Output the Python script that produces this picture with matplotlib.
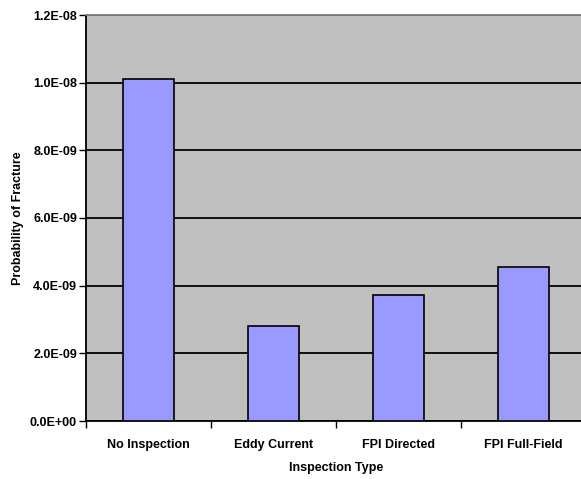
import matplotlib
matplotlib.use("Agg")
import matplotlib.pyplot as plt
from matplotlib.ticker import FuncFormatter, FixedLocator
import numpy as np

categories = ["No Inspection", "Eddy Current", "FPI Directed", "FPI Full-Field"]
values = [1.01e-8, 2.81e-9, 3.72e-9, 4.55e-9]
yticks = [0, 2e-9, 4e-9, 6e-9, 8e-9, 1.0e-8, 1.2e-8]

plt.rcParams['font.family'] = ['Liberation Sans', 'DejaVu Sans']
plt.rcParams['font.weight'] = 'bold'

W, H = 581, 479
fig = plt.figure(figsize=(W/100, H/100), dpi=100)
left, right, top, bottom = 86, 586, 15, 421
ax = fig.add_axes([left/W, 1 - bottom/H, (right-left)/W, (bottom-top)/H])
ax.set_facecolor('#C0C0C0')

x = np.arange(len(categories))
ax.bar(x, values, width=0.41, color='#9999FF', edgecolor='black', linewidth=1.2, zorder=3)

ax.set_xlim(-0.5, len(categories) - 0.5)
ax.set_ylim(0, 1.2e-8)
ax.set_yticks(yticks)
ax.yaxis.set_major_formatter(FuncFormatter(lambda v, p: ("%.1E" % v)))
ax.yaxis.grid(True, color='black', linewidth=1.3, zorder=1)
ax.set_axisbelow(True)

ax.set_xticks(x)
ax.set_xticklabels(categories, fontsize=9, fontweight='bold')
ax.tick_params(axis='x', which='major', length=0, pad=13)
ax.xaxis.set_minor_locator(FixedLocator(np.arange(-0.5, len(categories), 1.0)))
ax.tick_params(axis='x', which='minor', length=5, width=1, direction='out')
ax.tick_params(axis='y', length=5, width=1, direction='out', labelsize=9, pad=1.5)
for lbl in ax.get_yticklabels():
    lbl.set_fontweight('bold')

ax.spines['left'].set_color('black')
ax.spines['left'].set_linewidth(1.3)
ax.spines['bottom'].set_color('black')
ax.spines['bottom'].set_linewidth(1.3)
ax.spines['top'].set_color('#808080')
ax.spines['top'].set_linewidth(1.3)
ax.spines['right'].set_visible(False)

fig.text(336/W, 1 - 468/H, "Inspection Type", ha='center', va='center', fontsize=9, fontweight='bold')
fig.text(18.5/W, 1 - 218/H, "Probability of Fracture", ha='center', va='center', rotation=90, fontsize=9, fontweight='bold')

fig.savefig("out.png", dpi=100)
